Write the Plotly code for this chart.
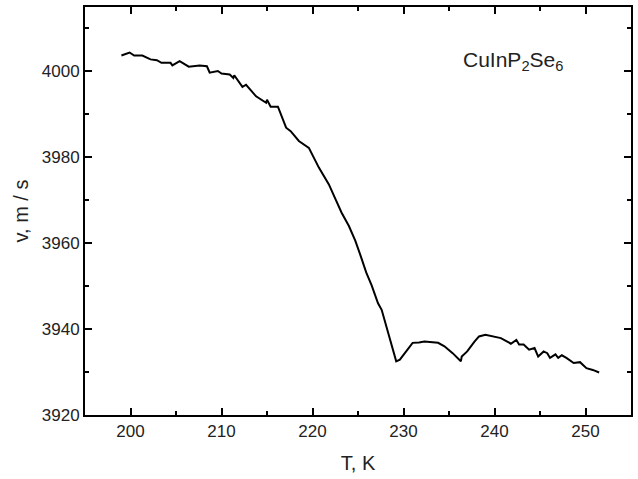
import plotly.graph_objects as go

T = [199.0, 199.9, 200.4, 201.3, 202.2, 202.9, 203.4, 204.4, 204.6, 205.4, 206.4, 207.6, 208.4, 208.7,
     209.6, 210.0, 210.9, 211.3, 211.4, 212.3, 212.7, 213.8, 214.9, 215.0, 215.4, 216.2, 217.1, 217.6,
     218.5, 219.6, 220.7, 221.8, 222.5, 223.2, 224.0, 224.7, 225.3, 225.9, 226.5, 227.2, 227.6, 228.1,
     228.7, 229.2, 229.6, 230.0, 230.5, 231.0, 231.7, 232.3, 233.8, 234.5, 235.4, 236.3, 236.4, 237.0,
     237.8, 238.3, 239.0, 239.9, 240.7, 241.4, 241.8, 242.4, 242.7, 243.2, 243.8, 244.4, 244.8, 245.4,
     245.8, 246.1, 246.7, 247.0, 247.4, 247.9, 248.7, 249.4, 249.7, 250.1, 250.8, 251.5]
V = [4003.7, 4004.4, 4003.7, 4003.7, 4002.8, 4002.6, 4002.0, 4002.0, 4001.4, 4002.4, 4001.1, 4001.4, 4001.2, 3999.7,
     4000.1, 3999.5, 3999.3, 3998.5, 3999.1, 3996.4, 3996.9, 3994.2, 3992.7, 3993.4, 3991.8, 3991.8, 3986.9, 3986.1,
     3983.8, 3982.2, 3977.6, 3973.7, 3970.4, 3967.1, 3964.0, 3960.6, 3957.0, 3953.2, 3950.2, 3946.0, 3944.5, 3940.6,
     3936.0, 3932.5, 3932.9, 3934.0, 3935.2, 3936.8, 3936.9, 3937.1, 3936.8, 3936.0, 3934.4, 3932.5, 3933.6, 3934.8,
     3937.1, 3938.3, 3938.7, 3938.3, 3937.9, 3937.1, 3936.6, 3937.5, 3936.4, 3936.4, 3935.2, 3935.6, 3933.6, 3934.8,
     3934.4, 3933.3, 3934.1, 3933.3, 3933.9, 3933.3, 3932.1, 3932.3, 3931.7, 3930.9, 3930.5, 3929.9]

FONT = "Liberation Sans, Arial, sans-serif"

fig = go.Figure()
fig.add_trace(go.Scatter(x=T, y=V, mode="lines", line=dict(color="black", width=2), showlegend=False))

axis_common = dict(
    showline=True, linecolor="black", linewidth=2, mirror="ticks",
    ticks="inside", ticklen=7, tickwidth=2, tickcolor="black",
    showgrid=False, zeroline=False,
    tickfont=dict(family=FONT, size=17, color="#222"),
)

fig.update_xaxes(range=[195, 255], dtick=10, tick0=200,
                 minor=dict(ticks="inside", dtick=5, tick0=195, ticklen=4, tickwidth=2, tickcolor="black", showgrid=False),
                 title=dict(text="T, K", font=dict(family=FONT, size=20, color="#222"), standoff=16),
                 **axis_common)
fig.update_yaxes(range=[3920, 4015], dtick=20, tick0=3920,
                 minor=dict(ticks="inside", dtick=10, tick0=3920, ticklen=4, tickwidth=2, tickcolor="black", showgrid=False),
                 title=dict(text="v, m / s", font=dict(family=FONT, size=20, color="#222"), standoff=8),
                 **axis_common)

fig.add_annotation(x=236.3, y=4002.5, xref="x", yref="y", xanchor="left", yanchor="middle",
                   text="CuInP<sub>2</sub>Se<sub>6</sub>", showarrow=False,
                   font=dict(family=FONT, size=21, color="#222"))

fig.update_layout(width=638, height=479, margin=dict(l=85, r=5, t=7, b=64),
                  plot_bgcolor="white", paper_bgcolor="white")

fig.write_html("out.html")
